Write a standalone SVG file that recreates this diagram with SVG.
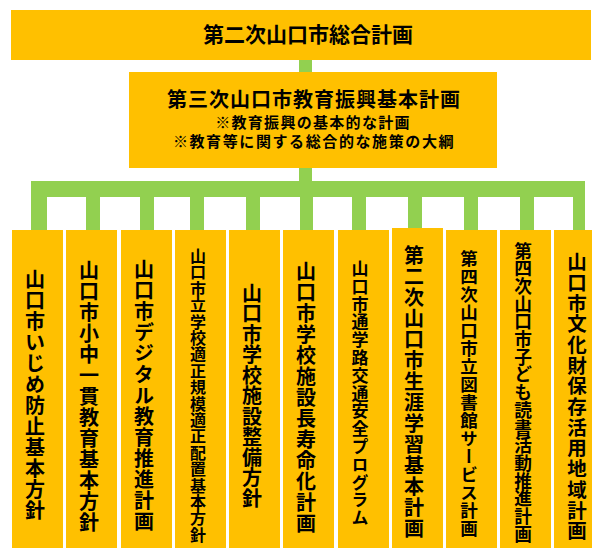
<svg xmlns="http://www.w3.org/2000/svg" width="592" height="549" viewBox="0 0 592 549">
<style>
.box{fill:#FFC000}
.con{fill:#92D050}
text{font-family:"Noto Sans CJK JP","Noto Sans CJK SC",sans-serif;font-weight:bold;fill:#000}
.h{text-anchor:middle}
.v{writing-mode:vertical-rl;text-anchor:start}
</style>
<rect width="592" height="549" fill="#fff"/>
<g id="connectors">
<rect class="con" x="299" y="60" width="13" height="12"/>
<rect class="con" x="299" y="167" width="13" height="15"/>
<rect class="con" x="31" y="181" width="554" height="16"/>
<rect class="con" x="31" y="196" width="16" height="34"/>
<rect class="con" x="86" y="196" width="14" height="34"/>
<rect class="con" x="140" y="196" width="14" height="34"/>
<rect class="con" x="190" y="196" width="14" height="34"/>
<rect class="con" x="246" y="196" width="14" height="34"/>
<rect class="con" x="300" y="196" width="13" height="34"/>
<rect class="con" x="352" y="196" width="14" height="34"/>
<rect class="con" x="408" y="196" width="14" height="34"/>
<rect class="con" x="464" y="196" width="14" height="34"/>
<rect class="con" x="520" y="196" width="14" height="34"/>
<rect class="con" x="573" y="182" width="12" height="48"/>
</g>
<g id="n-top">
<rect class="box" x="11" y="10" width="580" height="50"/>
<text class="h" x="308" y="42" font-size="21">第二次山口市総合計画</text>
</g>
<g id="n-edu">
<rect class="box" x="129" y="72" width="368" height="96"/>
<text class="h" x="314" y="107" font-size="20" letter-spacing="1">第三次山口市教育振興基本計画</text>
<text class="h" x="313" y="128" font-size="15" letter-spacing="1.3">※教育振興の基本的な計画</text>
<text class="h" x="314" y="147" font-size="15" letter-spacing="1.6">※教育等に関する総合的な施策の大綱</text>
</g>
<g id="n1"><rect class="box" x="12" y="230" width="51" height="318"/>
<text class="v" x="35" y="269" font-size="20" letter-spacing="1">山口市いじめ防止基本方針</text></g>
<g id="n2"><rect class="box" x="66" y="230" width="51" height="318"/>
<text class="v" x="89" y="260" font-size="20" letter-spacing="1">山口市小中一貫教育基本方針</text></g>
<g id="n3"><rect class="box" x="121" y="230" width="51" height="318"/>
<text class="v" x="144" y="259" font-size="20" letter-spacing="1">山口市デジタル教育推進計画</text></g>
<g id="n4"><rect class="box" x="175" y="230" width="51" height="318"/>
<text class="v" x="198" y="248" font-size="16" letter-spacing="0.4">山口市立学校適正規模適正配置基本方針</text></g>
<g id="n5"><rect class="box" x="229" y="230" width="51" height="318"/>
<text class="v" x="252" y="283" font-size="20" letter-spacing="0.5">山口市学校施設整備方針</text></g>
<g id="n6"><rect class="box" x="283" y="230" width="51" height="318"/>
<text class="v" x="306" y="261" font-size="20" letter-spacing="1">山口市学校施設長寿命化計画</text></g>
<g id="n7"><rect class="box" x="338" y="230" width="51" height="318"/>
<text class="v" x="360" y="260" font-size="17" letter-spacing="0.8">山口市通学路交通安全プログラム</text></g>
<g id="n8"><rect class="box" x="392" y="228" width="51" height="320"/>
<text class="v" x="414" y="245" font-size="20" letter-spacing="1">第二次山口市生涯学習基本計画</text></g>
<g id="n9"><rect class="box" x="446" y="230" width="51" height="318"/>
<text class="v" x="469" y="250" font-size="17.5" letter-spacing="0.5">第四次山口市立図書館サービス計画</text></g>
<g id="n10"><rect class="box" x="500" y="230" width="51" height="318"/>
<text class="v" x="523" y="242" font-size="17.7" letter-spacing="0">第四次山口市子ども読書活動推進計画</text></g>
<g id="n11"><rect class="box" x="554" y="230" width="38" height="318"/>
<text class="v" x="577" y="252" font-size="19.5" letter-spacing="1.2">山口市文化財保存活用地域計画</text></g>
</svg>
